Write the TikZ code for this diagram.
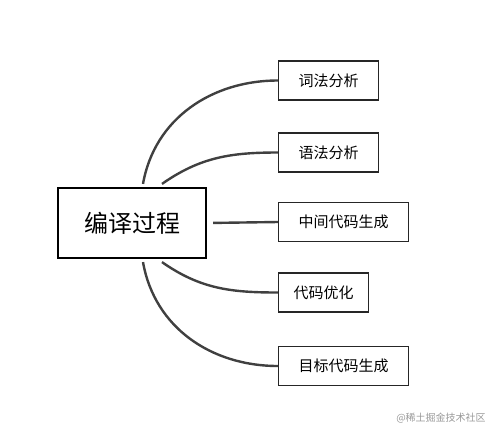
\documentclass[tikz,border=0pt]{standalone}
\usepackage{fontspec}
\setmainfont{Noto Sans CJK SC}
\usetikzlibrary{positioning}

\begin{document}
\begin{tikzpicture}[
    x=1pt, y=1pt,
    every node/.style={font=\fontsize{15}{17}\selectfont, align=center},
    root/.style={draw=black, line width=2.2pt, minimum width=148pt, minimum height=70pt, font=\fontsize{24}{28}\selectfont},
    leaf/.style={draw=black!85, line width=1.3pt, minimum height=39pt, anchor=west},
    branch/.style={draw=black!75, line width=2.4pt}
]
\useasboundingbox (0,0) rectangle (500,-445);

% --- Nodes ---
\node[root] (proc) at (132,-223) {编译过程};
\node[leaf, minimum width=100pt] (lex) at (278,-80.5) {词法分析};
\node[leaf, minimum width=100pt] (syn) at (278,-152.5) {语法分析};
\node[leaf, minimum width=130pt] (ir) at (278,-222) {中间代码生成};
\node[leaf, minimum width=90pt] (opt) at (278,-292.5) {代码优化};
\node[leaf, minimum width=130pt] (gen) at (278,-366) {目标代码生成};

% --- Branches ---
\draw[branch] ([xshift=11pt,yshift=3pt]proc.north) to[out=80,in=180] (lex.west);
\draw[branch] ([xshift=30pt,yshift=3pt]proc.north) to[out=35,in=180] (syn.west);
\draw[branch, shorten <=6pt] (proc.east) -- (ir.west);
\draw[branch] ([xshift=30pt,yshift=-3pt]proc.south) to[out=-35,in=180] (opt.west);
\draw[branch] ([xshift=11pt,yshift=-3pt]proc.south) to[out=-80,in=180] (gen.west);

% --- Watermark ---
\node[font=\fontsize{10}{12}\selectfont, text=black!40] (mark) at (441,-418) {@稀土掘金技术社区};

\end{tikzpicture}
\end{document}
